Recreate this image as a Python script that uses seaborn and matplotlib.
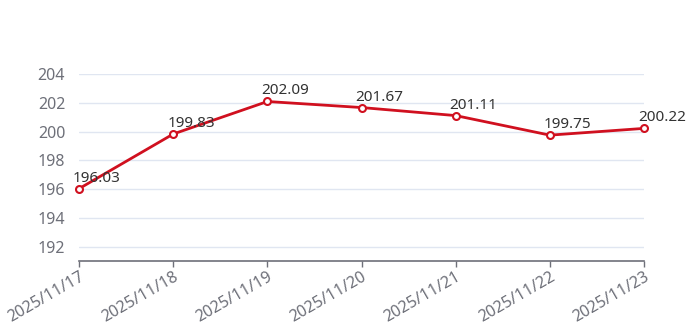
import matplotlib
matplotlib.use("Agg")
import matplotlib.pyplot as plt
import seaborn as sns
import pandas as pd

dates = ["2025/11/17", "2025/11/18", "2025/11/19", "2025/11/20",
         "2025/11/21", "2025/11/22", "2025/11/23"]
values = [196.03, 199.83, 202.09, 201.67, 201.11, 199.75, 200.22]
y_ticks = [192, 194, 196, 198, 200, 202, 204]

sns.set_theme(style="white")
plt.rcParams["font.family"] = ["Noto Sans", "DejaVu Sans"]

df = pd.DataFrame({"date": dates, "value": values})

fig = plt.figure(figsize=(7, 3.35), dpi=100)
ax = fig.add_axes([0.113, 0.221, 0.807, 0.558])

RED = "#d0101f"
sns.lineplot(data=df, x="date", y="value", sort=False, ax=ax, color=RED,
             linewidth=2.0, marker="o", markersize=5, markerfacecolor="white",
             markeredgecolor=RED, markeredgewidth=1.5, clip_on=False, zorder=3)

for i, v in enumerate(values):
    ax.annotate(f"{v:.2f}", (i, v), xytext=(-6, 3), textcoords="offset pixels",
                ha="left", va="bottom", fontsize=11, color="#333333",
                zorder=4, annotation_clip=False)

ax.set_xlim(0, len(dates) - 1)
ax.set_ylim(191, 204)
ax.set_yticks(y_ticks)
ax.set_yticklabels([str(t) for t in y_ticks])
for t in y_ticks:
    ax.axhline(t, color="#e0e6f1", linewidth=1, zorder=0)

ax.set_xlabel("")
ax.set_ylabel("")
for s in ["top", "right", "left"]:
    ax.spines[s].set_visible(False)
ax.spines["bottom"].set_color("#6e7079")
ax.spines["bottom"].set_linewidth(1.2)

ax.tick_params(axis="y", length=0, pad=10, labelsize=11.5, labelcolor="#6e7079")
ax.tick_params(axis="x", length=4, width=1, color="#6e7079", direction="out",
               pad=2, labelsize=11.5, labelcolor="#6e7079", bottom=True)
plt.setp(ax.get_xticklabels(), rotation=30, ha="right", rotation_mode="anchor")

fig.savefig("out.png", dpi=100)
